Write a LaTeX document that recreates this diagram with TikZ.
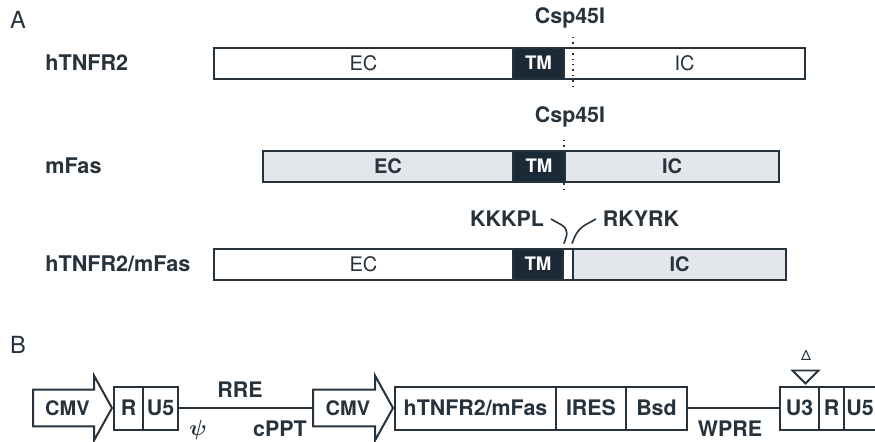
\documentclass[tikz,border=0pt]{standalone}
\usepackage{amsmath}
\usepackage{fontspec}
\setmainfont{TeX Gyre Heros}
\usetikzlibrary{positioning,shapes.arrows,calc}
\definecolor{inkgray}{HTML}{26323C}
\definecolor{tmfill}{HTML}{1C2937}
\definecolor{fasfill}{HTML}{E3E6EA}
\tikzset{
  segbox/.style={draw=inkgray, line width=1pt, minimum height=15.5pt, inner sep=0pt, outer sep=0pt, anchor=west, text=inkgray, font=\fontsize{10}{12}\selectfont},
  hsegbox/.style={segbox, fill=white},
  fsegbox/.style={segbox, fill=fasfill, font=\bfseries\fontsize{10}{12}\selectfont},
  tmbox/.style={segbox, fill=tmfill, text=white, font=\bfseries\fontsize{9.3}{11}\selectfont},
  rowlabel/.style={anchor=west, inner sep=0pt, text=inkgray, font=\bfseries\fontsize{10.8}{13}\selectfont},
  sitelabel/.style={text=inkgray, font=\bfseries\fontsize{10.7}{13}\selectfont},
  cutline/.style={draw=inkgray, line width=0.7pt, dotted},
  vecbox/.style={draw=inkgray, line width=1pt, fill=white, minimum height=21.5pt, inner sep=0pt, outer sep=0pt, text=inkgray, font=\bfseries\fontsize{10.7}{13}\selectfont},
  cmvarrow/.style={single arrow, draw=inkgray, line width=1pt, fill=white, single arrow head extend=7pt, single arrow tip angle=122, inner xsep=2pt, inner ysep=4.9pt, outer sep=0pt, text=inkgray, font=\bfseries\fontsize{10}{12}\selectfont},
  link/.style={draw=inkgray, line width=1pt},
  panel/.style={text=inkgray, font=\fontsize{11.8}{14}\selectfont}
}
\begin{document}
\begin{tikzpicture}[x=0.5pt, y=-0.5pt]
  \useasboundingbox (0,0) rectangle (875,441);
  % panel A
  \node[panel] (pa) at (18,20) {A};
  \node[rowlabel] (lab1) at (45,63) {hTNFR2};
  \node[hsegbox, minimum width=149.5pt] (ec1) at (214,63) {EC};
  \node[tmbox, minimum width=25.5pt, right=0pt of ec1] (tm1) {TM};
  \node[hsegbox, minimum width=120.5pt, right=0pt of tm1] (ic1) {IC};
  \node[sitelabel] (csp1) at (570,18) {Csp45I};
  \draw[cutline] (573,37) -- (573,88);

  \node[rowlabel] (lab2) at (45,166) {mFas};
  \node[fsegbox, minimum width=125pt] (ec2) at (263,166) {EC};
  \node[tmbox, minimum width=26pt, right=0pt of ec2] (tm2) {TM};
  \node[fsegbox, minimum width=107pt, right=0pt of tm2] (ic2) {IC};
  \node[sitelabel] (csp2) at (570,117) {Csp45I};
  \draw[cutline] (564,140) -- (564,192);

  \node[rowlabel] (lab3) at (45,264) {hTNFR2/mFas};
  \node[hsegbox, minimum width=149.5pt] (ec3) at (214,264) {EC};
  \node[tmbox, minimum width=25pt, right=0pt of ec3] (tm3) {TM};
  \node[hsegbox, minimum width=5pt, right=0pt of tm3] (jn3) {};
  \node[fsegbox, minimum width=106.5pt, right=0pt of jn3] (ic3) {IC};
  \node[sitelabel] (kk) at (507,219) {KKKPL};
  \node[sitelabel] (rk) at (641,219) {RKYRK};
  \draw[link, line width=0.8pt, rounded corners=4pt] (kk.east) -- ++(18,10) -- ($(jn3.north west)+(1,-5)$);
  \draw[link, line width=0.8pt, rounded corners=4pt] (rk.west) -- ++(-18,10) -- ($(jn3.north east)+(-1,-5)$);

  % panel B
  \node[panel] (pb) at (18,345) {B};
  \node[cmvarrow, minimum height=39.5pt, anchor=tail] (cmv1) at (33,408) {CMV};
  \node[vecbox, minimum width=14.5pt, anchor=west] (r1) at (114,408) {R};
  \node[vecbox, minimum width=17.5pt, right=0pt of r1] (u51) {U5};
  \node[cmvarrow, minimum height=40pt, anchor=tail] (cmv2) at (313,408) {CMV};
  \draw[link] (u51.east) -- (cmv2.tail);
  \node[vecbox, minimum width=80.5pt, right=1pt of cmv2.tip] (gene) {hTNFR2/mFas};
  \node[vecbox, minimum width=35pt, right=0pt of gene] (ires) {IRES};
  \node[vecbox, minimum width=30.5pt, right=0pt of ires] (bsd) {Bsd};
  \node[vecbox, minimum width=19.5pt, anchor=west] (u3) at (780,408) {U3};
  \node[vecbox, minimum width=12.5pt, right=0pt of u3] (r2) {R};
  \node[vecbox, minimum width=16pt, right=0pt of r2] (u52) {U5};
  \draw[link] (bsd.east) -- (u3.west);
  \node[sitelabel] (rre) at (240,390) {RRE};
  \node[sitelabel] (psi) at (198,430) {$\boldsymbol{\psi}$};
  \node[sitelabel] (cppt) at (280,429) {cPPT};
  \node[sitelabel] (wpre) at (730,429) {WPRE};
  \draw[link, line width=0.9pt, fill=white] ($(u3.north)+(-7,-16)$) -- ($(u3.north)+(19,-16)$) -- ($(u3.north)+(6,-3)$) -- cycle;
  \node[text=inkgray, font=\fontsize{7}{8}\selectfont] (dlt) at (806,355) {Δ};
\end{tikzpicture}
\end{document}
